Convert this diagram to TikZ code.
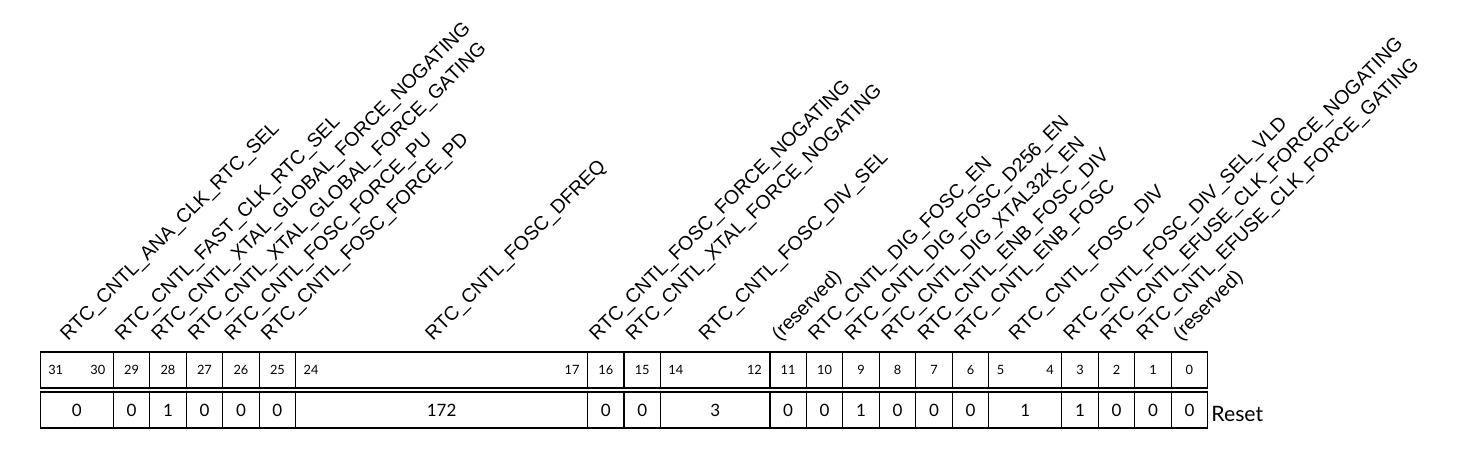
\documentclass[tikz,border=0pt]{standalone}
\usepackage{fontspec}
\newfontfamily\lblfont{Liberation Sans}
\newfontfamily\numfont{Lato}
\usetikzlibrary{positioning}
\tikzset{
  cell/.style={draw=black, line width=0.6pt, minimum height=18pt, inner sep=0pt, outer sep=0pt},
  bitnum/.style={font=\numfont\fontsize{6.4}{7}\selectfont, inner sep=0pt},
  valtxt/.style={cell, font=\numfont\fontsize{8.5}{10}\selectfont},
  fieldlbl/.style={font=\lblfont\fontsize{9.75}{11}\selectfont, rotate=45, anchor=south west, inner sep=0pt},
  resetlbl/.style={font=\numfont\fontsize{10.6}{12}\selectfont, inner sep=0pt},
}

\begin{document}
\begin{tikzpicture}[x=0.5pt, y=-0.5pt]
  \useasboundingbox (0,0) rectangle (1459,454);
  \def\bw{36.48}
  \def\xl{40.3}

  % one field per entry: high bit / low bit / name / reset value
  \foreach \bhi/\blo/\fname/\fval in {
    31/30/RTC\_CNTL\_ANA\_CLK\_RTC\_SEL/0,
    29/29/RTC\_CNTL\_FAST\_CLK\_RTC\_SEL/0,
    28/28/RTC\_CNTL\_XTAL\_GLOBAL\_FORCE\_NOGATING/1,
    27/27/RTC\_CNTL\_XTAL\_GLOBAL\_FORCE\_GATING/0,
    26/26/RTC\_CNTL\_FOSC\_FORCE\_PU/0,
    25/25/RTC\_CNTL\_FOSC\_FORCE\_PD/0,
    24/17/RTC\_CNTL\_FOSC\_DFREQ/172,
    16/16/RTC\_CNTL\_FOSC\_FORCE\_NOGATING/0,
    15/15/RTC\_CNTL\_XTAL\_FORCE\_NOGATING/0,
    14/12/RTC\_CNTL\_FOSC\_DIV\_SEL/3,
    11/11/(reserved)/0,
    10/10/RTC\_CNTL\_DIG\_FOSC\_EN/0,
    9/9/RTC\_CNTL\_DIG\_FOSC\_D256\_EN/1,
    8/8/RTC\_CNTL\_DIG\_XTAL32K\_EN/0,
    7/7/RTC\_CNTL\_ENB\_FOSC\_DIV/0,
    6/6/RTC\_CNTL\_ENB\_FOSC/0,
    5/4/RTC\_CNTL\_FOSC\_DIV/1,
    3/3/RTC\_CNTL\_FOSC\_DIV\_SEL\_VLD/1,
    2/2/RTC\_CNTL\_EFUSE\_CLK\_FORCE\_NOGATING/0,
    1/1/RTC\_CNTL\_EFUSE\_CLK\_FORCE\_GATING/0,
    0/0/(reserved)/0%
  }{
    \pgfmathsetmacro\xa{\xl+(31-\bhi)*\bw}
    \pgfmathsetmacro\xb{\xl+(32-\blo)*\bw}
    \pgfmathsetmacro\xc{(\xa+\xb)/2}
    \pgfmathsetmacro\fw{(\xb-\xa)*0.5}
    \node[cell, minimum width=\fw pt] (bit\blo) at (\xc,370) {};
    \node[valtxt, minimum width=\fw pt] (val\blo) at (\xc,410) {\fval};
    \ifnum\bhi=\blo
      \node[bitnum] (num\blo) at (bit\blo.center) {\bhi};
    \else
      \node[bitnum, anchor=west] (num\bhi) at ([xshift=3.8pt]bit\blo.west) {\bhi};
      \node[bitnum, anchor=east] (num\blo) at ([xshift=-3.8pt]bit\blo.east) {\blo};
    \fi
    \node[fieldlbl] (lbl\blo) at (\xc-5.8,344.5) {\fname};
  }

  \node[resetlbl, right=1.7pt of val0, yshift=-2pt] (reset) {Reset};
\end{tikzpicture}
\end{document}
